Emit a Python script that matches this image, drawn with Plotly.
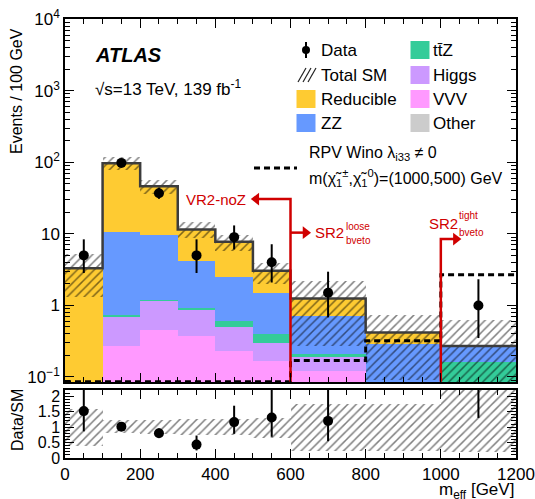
import numpy as np
import plotly.graph_objects as go

# ---------------- data ----------------
bin_edges = [0, 100, 200, 300, 400, 500, 600, 800, 1000, 1200]
reducible = [3.22, 86.0, 36.5, 7.3, 5.25, 1.58, 0.54, 0.13, 0.0]
zz        = [0.02, 9.9, 8.4, 3.3, 1.9, 1.07, 0.50, 0.245, 0.11]
ttz       = [0.01, 0.05, 0.04, 0.08, 0.10, 0.10, 0.017, 0.01, 0.147]
higgs     = [0.02, 0.41, 0.71, 0.47, 0.27, 0.13, 0.07, 0.02, 0.005]
vvv       = [0.02, 0.26, 0.45, 0.37, 0.22, 0.165, 0.118, 0.01, 0.005]
other     = [0.005, 0.01, 0.01, 0.01, 0.01, 0.005, 0.005, 0.003, 0.003]
unc_lo    = [0.40, 0.80, 0.78, 0.76, 0.74, 0.65, 0.22, 0.22, 0.20]   # relative
unc_hi    = [1.57, 1.22, 1.24, 1.25, 1.26, 1.28, 1.74, 1.74, 2.30]   # relative
data      = [5, 98, 37, 5, 9, 4, 1.5, None, 1.0]
data_elo  = [2.16, 9.9, 6.1, 2.16, 2.94, 1.91, 0.82, None, 0.65]
data_ehi  = [3.38, 10.9, 7.1, 3.38, 4.11, 3.16, 1.46, None, 1.32]
signal    = [0, 0, 0, 0, 0, 0, 0.17, 0.32, 2.68]

y_ticks = [0.1, 1, 10, 100, 1000, 10000]
y_ticktext = ["10<sup>−1</sup>", "1", "10", "10<sup>2</sup>", "10<sup>3</sup>", "10<sup>4</sup>"]
y_minor = [m * 10.0 ** e for e in range(-2, 4) for m in range(2, 10)]
r_ticks = [0, 0.5, 1, 1.5, 2]
r_ticktext = ["0", "0.5", "1", "1.5", "2"]
x_ticks = [0, 200, 400, 600, 800, 1000, 1200]

# ---------------- derived ----------------
edges = np.array(bin_edges, dtype=float)
centers = 0.5 * (edges[:-1] + edges[1:])
widths = edges[1:] - edges[:-1]
comps = [other, vvv, higgs, ttz, zz, reducible]
total = np.sum(np.array(comps, dtype=float), axis=0)
lo = np.array(unc_lo); hi = np.array(unc_hi)
d = np.array([np.nan if v is None else v for v in data], dtype=float)
dlo = np.array([np.nan if v is None else v for v in data_elo], dtype=float)
dhi = np.array([np.nan if v is None else v for v in data_ehi], dtype=float)

YMIN_LOG, YMAX_LOG = -1.07, 4.002
floor = 10 ** (YMIN_LOG + 0.004)

W, H = 535, 499
PLOT_L, PLOT_R, PLOT_T, PLOT_B = 65, 516, 19, 458   # plot area in pixels
L, R, T, B = PLOT_L, W - PLOT_R, PLOT_T, H - PLOT_B
PW, PH = PLOT_R - PLOT_L, PLOT_B - PLOT_T
def px(x): return (x - PLOT_L) / PW
def py(y): return (PLOT_B - y) / PH

FONT = "Liberation Sans, Arial, Helvetica, sans-serif"
RED = "#d00000"

fig = go.Figure()

names = ["Other", "VVV", "Higgs", "ttZ", "ZZ", "Reducible"]
colors = ["#cccccc", "#ff99ff", "#cc99ff", "#33cc99", "#6699ff", "#fecb32"]
for vals, nm, col in zip(comps, names, colors):
    fig.add_trace(go.Bar(x=centers, y=vals, width=widths, name=nm,
                         marker=dict(color=col, line=dict(width=0)),
                         xaxis="x", yaxis="y", showlegend=False, hoverinfo="skip"))

hatch = dict(color="rgba(0,0,0,0)", line=dict(width=0),
             pattern=dict(shape="/", fgcolor="#000000", bgcolor="rgba(0,0,0,0)",
                          size=6, solidity=0.25, fillmode="overlay"))
# Total SM uncertainty band (main)
fig.add_trace(go.Bar(x=centers, y=total * (hi - lo), base=total * lo, width=widths,
                     marker=hatch, xaxis="x", yaxis="y", showlegend=False, hoverinfo="skip"))
# Total SM outline
fig.add_trace(go.Scatter(x=edges, y=np.append(total, total[-1]), mode="lines",
                         line=dict(color="#3c3c3c", width=2.5, shape="hv"),
                         xaxis="x", yaxis="y", showlegend=False, hoverinfo="skip"))
# Signal
sig = np.maximum(np.array(signal, dtype=float), floor)
fig.add_trace(go.Scatter(x=edges, y=np.append(sig, sig[-1]), mode="lines",
                         line=dict(color="black", width=3, dash="6px,4px", shape="hv"),
                         xaxis="x", yaxis="y", showlegend=False, hoverinfo="skip"))

# Red region markers
red_line = dict(color=RED, width=2.5)
fig.add_trace(go.Scatter(x=[511, 600, 600], y=[30.6, 30.6, floor], mode="lines", line=red_line,
                         xaxis="x", yaxis="y", showlegend=False, hoverinfo="skip"))
fig.add_trace(go.Scatter(x=[600, 636], y=[10.4, 10.4], mode="lines", line=red_line,
                         xaxis="x", yaxis="y", showlegend=False, hoverinfo="skip"))
fig.add_trace(go.Scatter(x=[1000, 1000, 1036], y=[floor, 8.46, 8.46], mode="lines", line=red_line,
                         xaxis="x", yaxis="y", showlegend=False, hoverinfo="skip"))
fig.add_trace(go.Scatter(x=[509, 640, 1040], y=[30.6, 10.4, 8.46], mode="markers",
                         marker=dict(color=RED, size=11,
                                     symbol=["triangle-left", "triangle-right", "triangle-right"]),
                         xaxis="x", yaxis="y", showlegend=False, hoverinfo="skip"))

# Data
fig.add_trace(go.Scatter(x=centers, y=d, mode="markers",
                         marker=dict(color="black", size=10),
                         error_y=dict(type="data", symmetric=False, array=dhi, arrayminus=dlo,
                                      color="black", thickness=2, width=0),
                         xaxis="x", yaxis="y", showlegend=False, hoverinfo="skip"))

# ---------------- ratio panel ----------------
fig.add_trace(go.Bar(x=centers, y=hi - lo, base=lo, width=widths, marker=hatch,
                     xaxis="x2", yaxis="y2", showlegend=False, hoverinfo="skip"))
ratio = d / total
fig.add_trace(go.Scatter(x=centers, y=ratio, mode="markers",
                         marker=dict(color="black", size=10),
                         error_y=dict(type="data", symmetric=False, array=dhi / total,
                                      arrayminus=dlo / total, color="black", thickness=2, width=0),
                         xaxis="x2", yaxis="y2", showlegend=False, hoverinfo="skip", cliponaxis=True))

axis_common = dict(showline=True, linecolor="black", linewidth=1.5, mirror="allticks",
                   ticks="inside", ticklen=9, tickwidth=1.2, tickcolor="black",
                   showgrid=False, zeroline=False, automargin=False,
                   ticklabeloverflow="allow")
fig.update_layout(
    width=W, height=H, margin=dict(l=L, r=R, t=T, b=B, autoexpand=False),
    paper_bgcolor="white", plot_bgcolor="white",
    barmode="stack", bargap=0,
    font=dict(family=FONT, size=17, color="black"),
    xaxis=dict(domain=[0, 1], range=[0, 1200], anchor="y", tickvals=x_ticks,
               showticklabels=False,
               minor=dict(ticks="inside", ticklen=5, dtick=50, tickcolor="black"),
               **axis_common),
    yaxis=dict(domain=[py(382), 1], type="log", range=[YMIN_LOG, YMAX_LOG], anchor="x",
               tickvals=y_ticks, ticktext=y_ticktext,
               minor=dict(ticks="inside", ticklen=5, tickvals=y_minor, tickcolor="black"),
               tickfont=dict(size=17), **axis_common),
    xaxis2=dict(domain=[0, 1], range=[0, 1200], anchor="y2", tickvals=x_ticks,
                ticktext=[str(v) for v in x_ticks], tickfont=dict(size=17),
                minor=dict(ticks="inside", ticklen=5, dtick=50, tickcolor="black"),
                **axis_common),
    yaxis2=dict(domain=[0, py(390)], range=[0, 2.2], anchor="x2",
                tickvals=r_ticks, ticktext=r_ticktext, tickfont=dict(size=16),
                minor=dict(ticks="inside", ticklen=5, dtick=0.1, tickcolor="black"),
                **axis_common),
)

ann = []
def text(x, y, s, size=17, color="black", xanchor="left", yanchor="middle", angle=0):
    ann.append(dict(x=px(x), y=py(y), xref="paper", yref="paper", text=s, showarrow=False,
                    xanchor=xanchor, yanchor=yanchor, textangle=angle,
                    font=dict(family=FONT, size=size, color=color)))

text(93, 55, "<b><i>ATLAS</i></b>", size=20)
text(93, 88, "√s=13 TeV, 139 fb<sup>-1</sup>", size=17)
text(17, 91, "Events / 100 GeV", size=16, xanchor="center", angle=-90)
text(17, 420, "Data/SM", size=16, xanchor="center", angle=-90)
text(516, 491, "m<sub>eff</sub> [GeV]", size=17, xanchor="right")

# legend texts
rows = [50, 75, 99, 123]
for yy, s in zip(rows, ["Data", "Total SM", "Reducible", "ZZ"]):
    text(319, yy, s)
for yy, s in zip(rows, ["tt̄Z", "Higgs", "VVV", "Other"]):
    text(431, yy, s)
text(307, 153, "RPV Wino λ<sub>i33</sub> ≠ 0", size=16)
text(307, 178, "m(χ̃<sub>1</sub><sup>±</sup>,χ̃<sub>1</sub><sup>0</sup>)=(1000,500) GeV", size=16)

# red labels
text(248, 199, "VR2-noZ", size=15, color=RED, xanchor="right")
text(313, 233, "SR2", size=15, color=RED)
text(344, 226, "loose", size=10, color=RED)
text(344, 241, "bveto", size=10, color=RED)
text(427, 223, "SR2", size=15, color=RED)
text(457, 215, "tight", size=10, color=RED)
text(457, 233, "bveto", size=10, color=RED)
fig.update_layout(annotations=ann)

shapes = []
def rect(cx, cy, col):
    shapes.append(dict(type="rect", xref="paper", yref="paper",
                       x0=px(cx - 9.5), x1=px(cx + 9.5), y0=py(cy + 9), y1=py(cy - 9),
                       fillcolor=col, line=dict(width=0)))
def seg(x0, y0, x1, y1, col="black", w=1.2, dash="solid"):
    shapes.append(dict(type="line", xref="paper", yref="paper",
                       x0=px(x0), y0=py(y0), x1=px(x1), y1=py(y1),
                       line=dict(color=col, width=w, dash=dash)))

rect(306, 99, "#fecb32")
rect(306, 123, "#6699ff")
rect(420, 50, "#33cc99")
rect(420, 75, "#cc99ff")
rect(420, 99, "#ff99ff")
rect(420, 123, "#cccccc")
# data symbol
seg(306, 42, 306, 58, w=2)
shapes.append(dict(type="circle", xref="paper", yref="paper",
                   x0=px(302), x1=px(310), y0=py(54), y1=py(46),
                   fillcolor="black", line=dict(width=0)))
# hatch symbol
for k in range(3):
    seg(298 + 5 * k, 82, 306 + 5 * k, 68, col="#222222", w=1.2)
# signal symbol
seg(254, 168, 297, 168, w=3, dash="6px,4px")
fig.update_layout(shapes=shapes)

fig.write_html("out.html", config={"displayModeBar": False},
               post_script="document.body.style.margin='0';"
                           "document.body.style.overflow='hidden';")
